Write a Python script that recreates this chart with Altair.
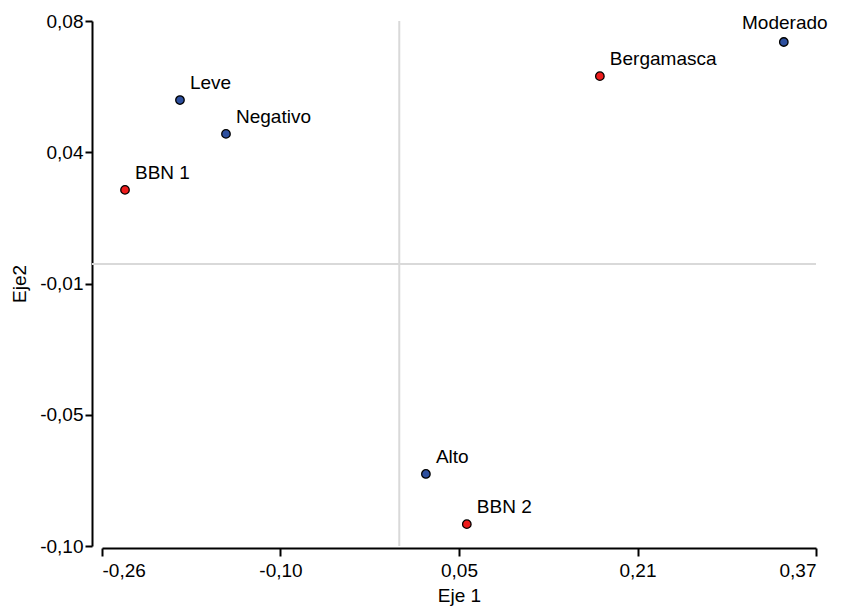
import altair as alt
import pandas as pd

labels = ["Moderado", "Bergamasca", "Leve", "Negativo", "BBN 1", "Alto", "BBN 2"]
eje1 = [0.3393, 0.1770, -0.1935, -0.1529, -0.2420, 0.0235, 0.0596]
eje2 = [0.0761, 0.0644, 0.0562, 0.0446, 0.0254, -0.0720, -0.0892]
grupo = ["a", "b", "a", "a", "b", "a", "b"]

x_ticks = [-0.2623, -0.1048, 0.0527, 0.2102, 0.3677]
y_ticks = [-0.0967, -0.0517, -0.0067, 0.0383, 0.0833]

df = pd.DataFrame({"label": labels, "x": eje1, "y": eje2, "g": grupo})

W, H = 714, 525
FONT = "Liberation Sans"

xscale = alt.Scale(domain=[x_ticks[0], x_ticks[-1]], nice=False, zero=False)
yscale = alt.Scale(domain=[y_ticks[0], y_ticks[-1]], nice=False, zero=False)
lab_expr = "replace(replace(format(datum.value, '.2f'), '.', ','), '\u2212', '-')"

base = alt.Chart(df)

vrule = alt.Chart(pd.DataFrame({"v": [0.0]})).mark_rule(color="#d9d9d9", strokeWidth=2).encode(
    x=alt.X("v:Q", scale=xscale)
)
hrule = alt.Chart(pd.DataFrame({"v": [0.0]})).mark_rule(color="#d9d9d9", strokeWidth=2).encode(
    y=alt.Y("v:Q", scale=yscale), x=alt.value(-10), x2=alt.value(W)
)

points = base.mark_point(filled=True, size=72, stroke="black", strokeWidth=1.3, opacity=1).encode(
    x=alt.X("x:Q", scale=xscale,
            axis=alt.Axis(values=x_ticks, labelExpr=lab_expr, title="Eje 1", grid=False,
                          offset=2, tickSize=8, labelPadding=5, titlePadding=6)),
    y=alt.Y("y:Q", scale=yscale,
            axis=alt.Axis(values=y_ticks, labelExpr=lab_expr, title="Eje2", grid=False,
                          offset=10, tickSize=7, labelPadding=2, titlePadding=10)),
    fill=alt.Fill("g:N", scale=alt.Scale(domain=["a", "b"], range=["#2d4f9e", "#ee1c1c"]), legend=None),
)

text = base.transform_filter(alt.datum.label != "Moderado").mark_text(
    align="left", baseline="alphabetic", dx=10, dy=-11, fontSize=19, font=FONT, color="black"
).encode(x="x:Q", y="y:Q", text="label:N")

text_edge = base.transform_filter(alt.datum.label == "Moderado").mark_text(
    align="center", baseline="alphabetic", dx=1, dy=-13, fontSize=19, font=FONT, color="black"
).encode(x="x:Q", y="y:Q", text="label:N")

chart = alt.layer(vrule, hrule, points, text, text_edge).properties(
    width=W, height=H,
    autosize=alt.AutoSizeParams(type="none"),
    padding={"left": 94, "top": 13, "right": 32, "bottom": 64},
).configure_view(stroke=None).configure_axis(
    domainColor="black", domainWidth=2, tickColor="black", tickWidth=2,
    labelFont=FONT, labelFontSize=19, labelColor="black",
    titleFont=FONT, titleFontSize=19, titleFontWeight="normal", titleColor="black",
)

chart.save("out.html", embed_options={"renderer": "svg", "actions": False})
